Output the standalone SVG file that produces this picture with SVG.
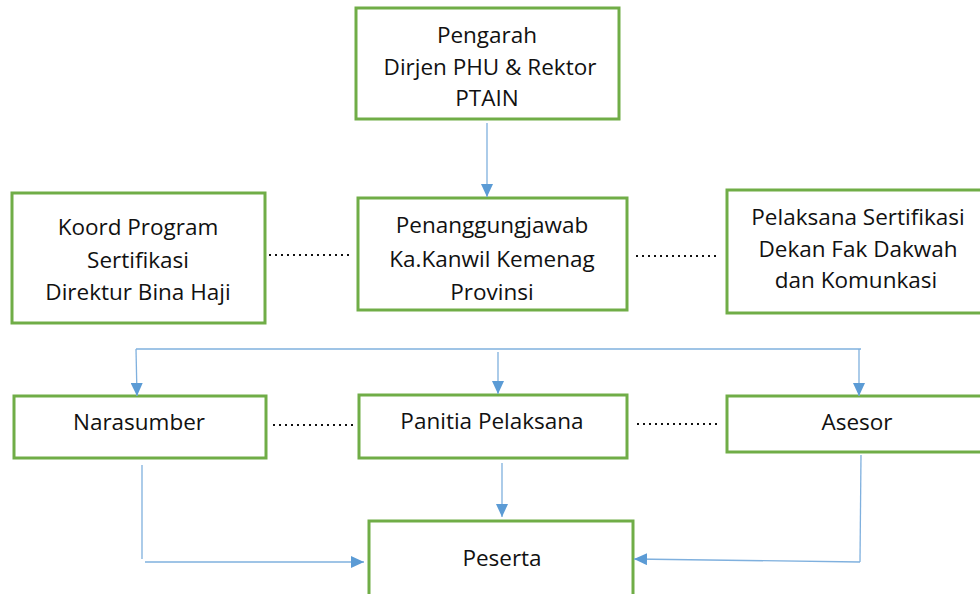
<svg xmlns="http://www.w3.org/2000/svg" width="980" height="594" viewBox="0 0 980 594">
<defs>
<marker id="ah" viewBox="0 0 13 12" refX="13" refY="6" markerWidth="13" markerHeight="12" markerUnits="userSpaceOnUse" orient="auto">
<path d="M0,0 L13,6 L0,12 Z" fill="#5B9BD5"/>
</marker>
<style>
.box{fill:#fff;stroke:#70AD47;stroke-width:3}
.t{font-family:"Open Sans","Liberation Sans",sans-serif;font-size:22.5px;fill:#111;text-anchor:middle}
.c{fill:none;stroke:#7FB0DE;stroke-width:1.3}
.d{fill:none;stroke:#111;stroke-width:2.2;stroke-dasharray:2 4}
</style>
</defs>
<rect width="980" height="594" fill="#fff"/>
<g id="pengarah"><rect class="box" x="356" y="8" width="263" height="111"/>
<text class="t" x="487" y="43">Pengarah</text><text class="t" x="490" y="75">Dirjen PHU &amp; Rektor</text><text class="t" x="487" y="106">PTAIN</text></g>
<g id="penanggungjawab"><rect class="box" x="358" y="198" width="269" height="112"/>
<text class="t" x="492" y="233">Penanggungjawab</text><text class="t" x="492" y="267">Ka.Kanwil Kemenag</text><text class="t" x="492" y="300">Provinsi</text></g>
<g id="koord"><rect class="box" x="12" y="193" width="253" height="130"/>
<text class="t" x="138" y="235">Koord Program</text><text class="t" x="138" y="268">Sertifikasi</text><text class="t" x="138" y="300">Direktur Bina Haji</text></g>
<g id="pelaksana"><rect class="box" x="727" y="190" width="260" height="123"/>
<text class="t" x="858" y="225">Pelaksana Sertifikasi</text><text class="t" x="858" y="257">Dekan Fak Dakwah</text><text class="t" x="856" y="288">dan Komunkasi</text></g>
<g id="narasumber"><rect class="box" x="14" y="396" width="252" height="62"/>
<text class="t" x="139" y="430">Narasumber</text></g>
<g id="panitia"><rect class="box" x="359" y="395" width="268" height="63"/>
<text class="t" x="492" y="429">Panitia Pelaksana</text></g>
<g id="asesor"><rect class="box" x="727" y="396" width="260" height="56"/>
<text class="t" x="857" y="430">Asesor</text></g>
<g id="peserta"><rect class="box" x="369" y="521" width="264" height="80"/>
<text class="t" x="502" y="566">Peserta</text></g>
<g id="connectors">
<path class="c" d="M487,123 V197" marker-end="url(#ah)"/>
<path class="c" d="M136,349 H861"/>
<path class="c" d="M136,349 L137,396" marker-end="url(#ah)"/>
<path class="c" d="M498,352 V394" marker-end="url(#ah)"/>
<path class="c" d="M859,349 V396" marker-end="url(#ah)"/>
<path class="c" d="M502,463 V517" marker-end="url(#ah)"/>
<path class="c" d="M142,465 V559"/>
<path class="c" d="M145,562 H364" marker-end="url(#ah)"/>
<path class="c" d="M861,455 L860,562"/>
<path class="c" d="M860,562 L634,559" marker-end="url(#ah)"/>
<path class="d" d="M269,255 H349"/>
<path class="d" d="M636,256 H718"/>
<path class="d" d="M273,425 H354"/>
<path class="d" d="M637,424 H718"/>
</g>
</svg>
